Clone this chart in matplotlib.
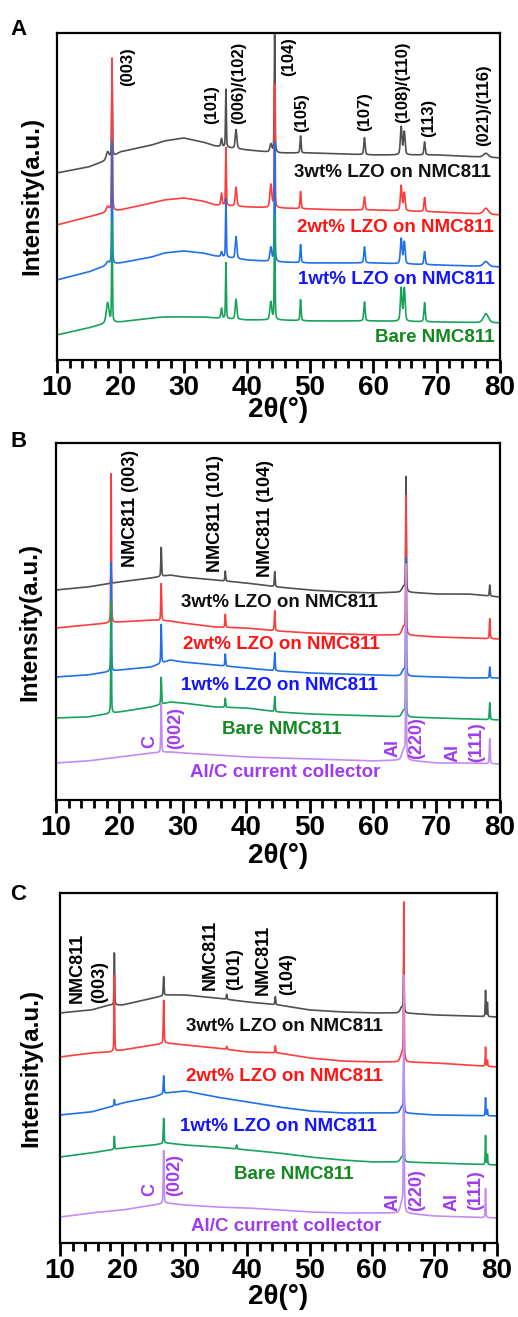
import numpy as np
import matplotlib.pyplot as plt
from matplotlib.ticker import MultipleLocator

plt.rcParams['font.family'] = ['Liberation Sans', 'DejaVu Sans']
plt.rcParams['font.weight'] = 'bold'

two_theta = np.arange(10, 80.001, 0.02)

names = ['3wt% LZO on NMC811', '2wt% LZO on NMC811', '1wt% LZO on NMC811',
         'Bare NMC811', 'Al/C current collector']
line_colors = ['#505050', '#ff3d3d', '#2070e8', '#17a35a', '#c48cf2']
text_colors = ['#111111', '#ff1414', '#1414ff', '#12891f', '#a03cf0']

# ---------------- panel A (offset intensities, a.u.) ----------------
a_bg_x = [10, 15, 18, 20, 25, 27, 30, 33, 35, 40, 45, 50, 55, 60, 70, 80]
a_bg_3wt = [187, 193, 200, 208, 215, 219, 222, 218, 214, 210, 207, 207, 206, 205, 205, 202]
a_bg_2wt = [135, 143, 148, 150, 157, 160, 162, 159, 155, 153, 152, 151, 150, 150, 148, 145]
a_bg_1wt = [80, 88, 95, 97, 103, 107, 109, 107, 104, 100, 98, 97, 97, 97, 95, 93]
a_bg_bare = [25, 32, 37, 38, 42, 43, 43, 43, 42, 40, 40, 39, 39, 39, 38, 37]

a_pos = [18.0, 18.7, 36.0, 36.7, 38.3, 43.8, 44.4, 48.5, 58.6, 64.4, 64.9, 68.1, 77.8]
a_fwhm = [0.5, 0.15, 0.25, 0.15, 0.3, 0.35, 0.15, 0.2, 0.25, 0.3, 0.3, 0.25, 0.9]
a_h_3wt = [8, 83, 8, 58, 19, 8, 118, 17, 17, 28, 23, 13, 4]
a_h_2wt = [5, 153, 12, 58, 19, 23, 123, 17, 13, 25, 18, 14, 6]
a_h_1wt = [3, 122, 5, 59, 22, 14, 119, 18, 16, 25, 22, 13, 5]
a_h_bare = [20, 100, 10, 56, 20, 18, 105, 21, 19, 33, 33, 19, 9]

a_peak_labels = ['(003)', '(101)', '(006)/(102)', '(104)', '(105)', '(107)',
                 '(108)/(110)', '(113)', '(021)/(116)']
a_peak_x = [21.1, 34.5, 38.7, 46.6, 48.7, 58.7, 64.6, 68.8, 77.5]
a_peak_y = [293, 255, 277, 303, 247, 248, 278, 242, 255]
a_name_x = [78.5, 79.0, 79.2, 79.2]
a_name_y = [187, 132, 80, 22]

# ---------------- panel B ----------------
b_bg_x = [10, 15, 20, 25, 28, 30, 35, 40, 45, 50, 55, 60, 65, 70, 75, 80]
b_bg_3wt = [210, 213, 218, 222, 225, 223, 220, 217, 213, 210, 208, 207, 208, 206, 206, 203]
b_bg_2wt = [172, 175, 178, 180, 179, 177, 173, 172, 169, 167, 166, 165, 165, 163, 162, 161]
b_bg_1wt = [123, 125, 130, 133, 140, 138, 135, 132, 129, 127, 126, 125, 124, 123, 122, 122]
b_bg_bare = [82, 83, 88, 93, 98, 97, 93, 92, 88, 86, 85, 84, 83, 82, 81, 80]
b_bg_alc = [37, 39, 43, 47, 48, 47, 45, 43, 42, 41, 40, 39, 40, 37, 37, 36]

b_pos = [18.7, 26.6, 36.7, 44.5, 64.8, 65.2, 78.4]
b_fwhm = [0.12, 0.15, 0.15, 0.15, 0.6, 0.12, 0.15]
b_h_3wt = [10, 29, 10, 15, 5, 114, 11]
b_h_2wt = [149, 37, 13, 20, 8, 137, 20]
b_h_1wt = [109, 39, 12, 18, 6, 116, 11]
b_h_bare = [112, 27, 9, 15, 6, 110, 17]
b_h_alc = [0, 49, 0, 0, 10, 193, 25]

b_peak_labels = ['NMC811 (003)', 'NMC811 (101)', 'NMC811 (104)']
b_peak_x = [21.7, 35.1, 43.0]
b_peak_y = [292, 287, 282]
b_name_x = [45.3, 45.5, 45.3, 45.6, 46.1]
b_name_y = [197, 155, 114, 70, 27]
b_al_labels = ['C', '(002)', 'Al', '(220)', 'Al', '(111)']
b_al_x = [24.8, 28.9, 63.2, 66.9, 72.6, 76.4]
b_al_y = [58, 72, 52, 62, 47, 58]

# ---------------- panel C ----------------
c_bg_x = [10, 15, 18, 20, 25, 27, 30, 35, 40, 45, 50, 55, 60, 65, 70, 80]
c_bg_3wt = [230, 233, 238, 238, 245, 248, 248, 245, 241, 238, 233, 231, 230, 230, 228, 226]
c_bg_2wt = [186, 190, 191, 193, 198, 200, 198, 195, 191, 190, 185, 182, 181, 181, 180, 176]
c_bg_1wt = [128, 131, 136, 140, 146, 150, 152, 146, 141, 136, 132, 130, 130, 130, 128, 127]
c_bg_bare = [86, 90, 93, 95, 98, 100, 98, 96, 93, 90, 86, 83, 81, 81, 80, 78]
c_bg_alc = [26, 30, 32, 33, 38, 40, 38, 36, 35, 33, 31, 30, 30, 30, 27, 25]

c_pos = [18.7, 26.6, 36.7, 38.3, 44.5, 64.8, 65.1, 78.2, 78.5]
c_fwhm = [0.12, 0.15, 0.15, 0.15, 0.15, 0.6, 0.12, 0.12, 0.12]
c_h_3wt = [52, 19, 5, 0, 8, 6, 48, 26, 14]
c_h_2wt = [76, 43, 3, 0, 7, 8, 156, 19, 6]
c_h_1wt = [6, 18, 0, 0, 0, 6, 53, 18, 6]
c_h_bare = [13, 25, 0, 4, 0, 5, 45, 29, 10]
c_h_alc = [0, 53, 0, 0, 0, 10, 233, 29, 0]

c_peak_labels = ['NMC811', '(003)', 'NMC811', '(101)', 'NMC811', '(104)']
c_peak_x = [12.7, 16.4, 34.0, 38.0, 42.5, 46.5]
c_peak_y = [240, 240, 253, 253, 248, 248]
c_name_x = [45.9, 45.9, 45.0, 47.5, 46.2]
c_name_y = [216, 166, 116, 68, 16]
c_al_labels = ['C', '(002)', 'Al', '(220)', 'Al', '(111)']
c_al_x = [24.4, 28.4, 63.4, 67.2, 72.8, 76.6]
c_al_y = [53, 68, 41, 53, 41, 53]


def pattern(bg_x, bg_y, pos, fwhm, heights):
    y = np.interp(two_theta, bg_x, bg_y)
    for p, w, h in zip(pos, fwhm, heights):
        d = (two_theta - p) / w
        y = y + h * (0.6 * np.exp(-4 * np.log(2) * d ** 2) + 0.4 / (1 + 4 * d ** 2))
    return y


def style_axes(ax, ytop, xlab_y, ylab_x):
    ax.set_xlim(10, 80)
    ax.set_ylim(0, ytop)
    ax.set_yticks([])
    ax.xaxis.set_major_locator(MultipleLocator(10))
    ax.xaxis.set_minor_locator(MultipleLocator(2))
    ax.tick_params(axis='x', which='major', direction='out', length=9, width=2,
                   labelsize=20, pad=2)
    ax.tick_params(axis='x', which='minor', direction='out', length=6, width=2)
    for s in ax.spines.values():
        s.set_linewidth(1.6)
    ax.set_xlabel('2θ(°)', fontsize=20, fontweight='bold')
    ax.xaxis.set_label_coords(0.5, xlab_y)
    ax.set_ylabel('Intensity(a.u.)', fontsize=17.5, fontweight='bold')
    ax.yaxis.set_label_coords(ylab_x, 0.5)


fig = plt.figure(figsize=(5.18, 13.17), dpi=100)
axA = fig.add_axes([0.110, 0.7267, 0.855, 0.2483])
axB = fig.add_axes([0.108, 0.3926, 0.857, 0.2710])
axC = fig.add_axes([0.116, 0.0562, 0.843, 0.2658])

# panel A
a_bgs = [a_bg_3wt, a_bg_2wt, a_bg_1wt, a_bg_bare]
a_hs = [a_h_3wt, a_h_2wt, a_h_1wt, a_h_bare]
for i in range(4):
    axA.plot(two_theta, pattern(a_bg_x, a_bgs[i], a_pos, a_fwhm, a_hs[i]),
             color=line_colors[i], lw=1.2)
for lab, x, y in zip(a_peak_labels, a_peak_x, a_peak_y):
    axA.text(x, y, lab, rotation=90, ha='center', va='center', fontsize=12)
for i in range(4):
    axA.text(a_name_x[i], a_name_y[i], names[i], ha='right', va='center',
             fontsize=13.5, color=text_colors[i])
style_axes(axA, 327, -0.112, -0.03)

# panel B
b_bgs = [b_bg_3wt, b_bg_2wt, b_bg_1wt, b_bg_bare, b_bg_alc]
b_hs = [b_h_3wt, b_h_2wt, b_h_1wt, b_h_bare, b_h_alc]
for i in range(5):
    axB.plot(two_theta, pattern(b_bg_x, b_bgs[i], b_pos, b_fwhm, b_hs[i]),
             color=line_colors[i], lw=1.2)
for lab, x, y in zip(b_peak_labels, b_peak_x, b_peak_y):
    axB.text(x, y, lab, rotation=90, ha='center', va='center', fontsize=13)
for i in range(5):
    axB.text(b_name_x[i], b_name_y[i], names[i], ha='center', va='center',
             fontsize=13.5, color=text_colors[i])
for lab, x, y in zip(b_al_labels, b_al_x, b_al_y):
    axB.text(x, y, lab, rotation=90, ha='center', va='center', fontsize=13,
             color=text_colors[4])
style_axes(axB, 357, -0.122, -0.032)

# panel C
c_bgs = [c_bg_3wt, c_bg_2wt, c_bg_1wt, c_bg_bare, c_bg_alc]
c_hs = [c_h_3wt, c_h_2wt, c_h_1wt, c_h_bare, c_h_alc]
for i in range(5):
    axC.plot(two_theta, pattern(c_bg_x, c_bgs[i], c_pos, c_fwhm, c_hs[i]),
             color=line_colors[i], lw=1.2)
for lab, x, y in zip(c_peak_labels, c_peak_x, c_peak_y):
    axC.text(x, y, lab, rotation=90, ha='center', va='bottom', fontsize=13)
for i in range(5):
    axC.text(c_name_x[i], c_name_y[i], names[i], ha='center', va='center',
             fontsize=13.5, color=text_colors[i])
for lab, x, y in zip(c_al_labels, c_al_x, c_al_y):
    axC.text(x, y, lab, rotation=90, ha='center', va='center', fontsize=13,
             color=text_colors[4])
style_axes(axC, 350, -0.118, -0.041)

fig.text(0.02, 1 - 35 / 1317, 'A', fontsize=16, fontweight='bold', va='baseline')
fig.text(0.02, 1 - 447 / 1317, 'B', fontsize=16, fontweight='bold', va='baseline')
fig.text(0.02, 1 - 900 / 1317, 'C', fontsize=16, fontweight='bold', va='baseline')

fig.savefig('out.png', dpi=100)
